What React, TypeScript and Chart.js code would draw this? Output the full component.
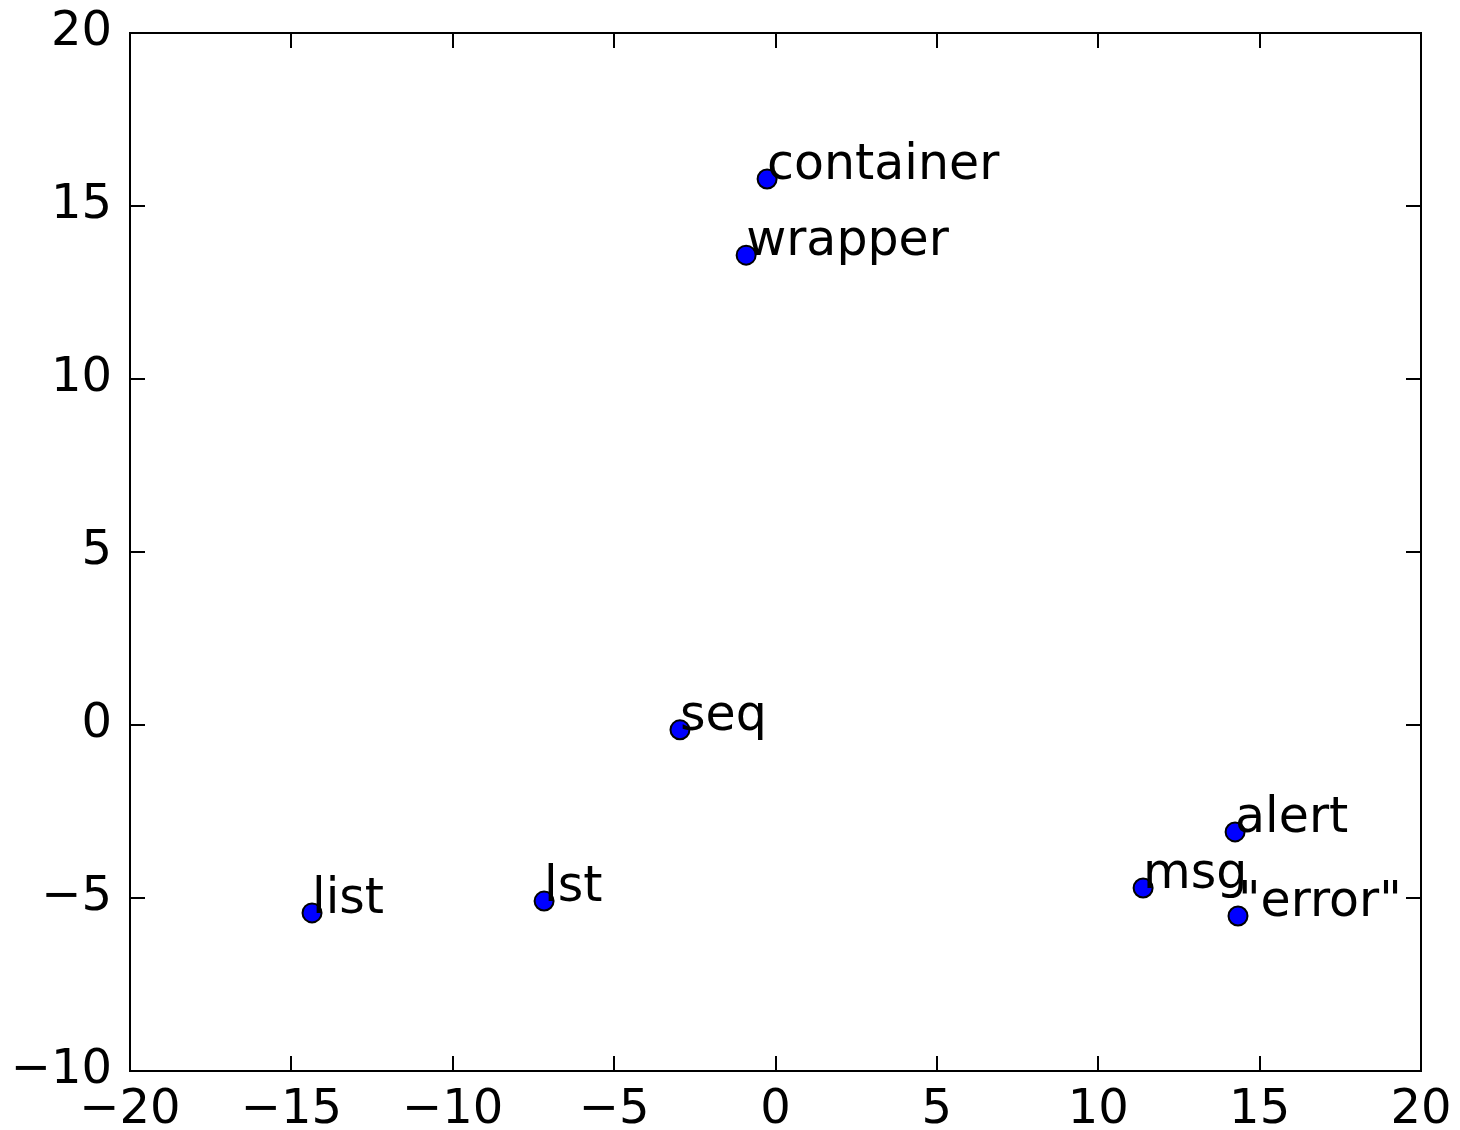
import React, { useEffect, useRef } from "react";
import { Chart, registerables } from "chart.js";

Chart.register(...registerables);

const words = ["container", "wrapper", "seq", "list", "lst", "msg", "alert", "\"error\""];
const xValues = [-0.26, -0.91, -2.96, -14.36, -7.17, 11.39, 14.24, 14.33];
const yValues = [15.78, 13.58, -0.14, -5.43, -5.09, -4.71, -3.09, -5.52];
const xTicks = [-20, -15, -10, -5, 0, 5, 10, 15, 20];
const yTicks = [-10, -5, 0, 5, 10, 15, 20];

const FONT = '"DejaVu Sans", sans-serif';

const fmt = (v: number) => (v < 0 ? "\u2212" + Math.abs(v) : String(v));

const framePlugin = {
  id: "frameAndLabels",
  afterDatasetsDraw(chart: any) {
    const { ctx, chartArea, scales } = chart;
    const { left, right, top, bottom } = chartArea;
    ctx.save();
    // labels
    ctx.fillStyle = "#000";
    ctx.font = `49px ${FONT}`;
    ctx.textAlign = "left";
    ctx.textBaseline = "alphabetic";
    words.forEach((w, i) => {
      const px = scales.x.getPixelForValue(xValues[i]);
      const py = scales.y.getPixelForValue(yValues[i]);
      ctx.fillText(w, px, py);
    });
    // frame
    ctx.strokeStyle = "#000";
    ctx.lineWidth = 2;
    ctx.strokeRect(left, top, right - left, bottom - top);
    // ticks
    const tl = 15;
    ctx.beginPath();
    xTicks.forEach((t) => {
      const px = Math.round(scales.x.getPixelForValue(t));
      ctx.moveTo(px, bottom);
      ctx.lineTo(px, bottom - tl);
      ctx.moveTo(px, top);
      ctx.lineTo(px, top + tl);
    });
    yTicks.forEach((t) => {
      const py = Math.round(scales.y.getPixelForValue(t));
      ctx.moveTo(left, py);
      ctx.lineTo(left + tl, py);
      ctx.moveTo(right, py);
      ctx.lineTo(right - tl, py);
    });
    ctx.stroke();
    ctx.restore();
  },
};

const zeroPad = (s: any) => {
  s.paddingTop = 0;
  s.paddingBottom = 0;
  s.paddingLeft = 0;
  s.paddingRight = 0;
};

export default function App() {
  const ref = useRef<HTMLCanvasElement | null>(null);
  useEffect(() => {
    document.body.style.margin = "0";
    const canvas = ref.current;
    if (!canvas) return;
    const chart = new Chart(canvas, {
      type: "scatter",
      data: {
        datasets: [
          {
            data: xValues.map((x, i) => ({ x, y: yValues[i] })),
            backgroundColor: "#0000ff",
            borderColor: "#000000",
            borderWidth: 2,
            pointRadius: 9.5,
          },
        ],
      },
      options: {
        animation: false,
        responsive: false,
        devicePixelRatio: 1,
        layout: { padding: { top: 33, right: 39, left: 0, bottom: 0 } },
        plugins: { legend: { display: false }, tooltip: { enabled: false } },
        scales: {
          x: {
            type: "linear",
            min: -20,
            max: 20,
            afterFit: (s: any) => {
              s.height = 59;
              zeroPad(s);
            },
            afterBuildTicks: (s: any) => {
              s.ticks = xTicks.map((v) => ({ value: v }));
            },
            grid: { display: false, drawTicks: false },
            border: { display: false },
            ticks: {
              padding: 11,
              color: "#000",
              font: { family: FONT, size: 48 },
              maxRotation: 0,
              autoSkip: false,
              callback: (v: any) => fmt(Number(v)),
            },
          },
          y: {
            type: "linear",
            min: -10,
            max: 20,
            afterFit: (s: any) => {
              s.width = 130;
              zeroPad(s);
            },
            afterBuildTicks: (s: any) => {
              s.ticks = yTicks.map((v) => ({ value: v }));
            },
            grid: { display: false, drawTicks: false },
            border: { display: false },
            ticks: {
              padding: 18,
              color: "#000",
              font: { family: FONT, size: 48 },
              autoSkip: false,
              callback: (v: any) => fmt(Number(v)),
            },
          },
        },
      },
      plugins: [framePlugin],
    });
    return () => chart.destroy();
  }, []);
  return <canvas ref={ref} width={1460} height={1130} style={{ display: "block" }} />;
}
